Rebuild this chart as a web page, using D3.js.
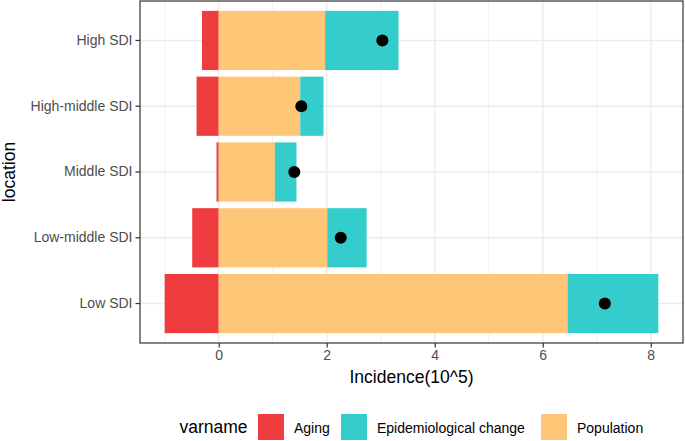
<!DOCTYPE html>
<html>
<head>
<meta charset="utf-8">
<script src="https://cdn.jsdelivr.net/npm/d3@7"></script>
<style>
  body { margin: 0; background: #fff; }
  text { font-family: "Liberation Sans", Arial, sans-serif; }
</style>
</head>
<body>
<div class="chart"></div>
<script>
(function() {
  'use strict';

  const WIDTH = 685;
  const HEIGHT = 441;

  // Data (units of 10^5)
  const LOCATIONS = ['High SDI', 'High-middle SDI', 'Middle SDI', 'Low-middle SDI', 'Low SDI'];
  const AGING = [-0.31, -0.41, -0.04, -0.49, -1.00];
  const POPULATION = [1.97, 1.51, 1.04, 2.01, 6.46];
  const EPI_CHANGE = [1.36, 0.43, 0.40, 0.73, 1.68];
  const NET = [3.03, 1.53, 1.40, 2.26, 7.15];
  const X_TICKS = [0, 2, 4, 6, 8];
  const X_MINOR = [-1, 1, 3, 5, 7];
  const VARNAMES = ['Aging', 'Epidemiological change', 'Population'];
  const COLORS = ['#EF3D3F', '#35CCCC', '#FEC677'];

  const panel = { left: 140, right: 683, top: 1, bottom: 343 };

  const svg = d3.select('.chart')
    .append('svg')
    .attr('width', WIDTH)
    .attr('height', HEIGHT);

  // x domain like ggplot: data range plus 5% each side
  const lo = d3.min(AGING);
  const hi = d3.max(POPULATION.map((p, i) => p + EPI_CHANGE[i]));
  const pad = (hi - lo) * 0.05;
  const x = d3.scaleLinear()
    .domain([lo - pad, hi + pad])
    .range([panel.left, panel.right]);

  const y = d3.scaleBand()
    .domain(LOCATIONS)
    .range([panel.top, panel.bottom])
    .paddingInner(0.1)
    .paddingOuter(0.15);

  const colour = d3.scaleOrdinal().domain(VARNAMES).range(COLORS);

  // Grid
  const grid = svg.append('g').attr('class', 'grid');
  grid.selectAll('.minor')
    .data(X_MINOR)
    .enter().append('line')
    .attr('x1', d => x(d)).attr('x2', d => x(d))
    .attr('y1', panel.top).attr('y2', panel.bottom)
    .attr('stroke', '#EBEBEB').attr('stroke-width', 0.7);
  grid.selectAll('.major')
    .data(X_TICKS)
    .enter().append('line')
    .attr('x1', d => x(d)).attr('x2', d => x(d))
    .attr('y1', panel.top).attr('y2', panel.bottom)
    .attr('stroke', '#EBEBEB').attr('stroke-width', 1.4);
  grid.selectAll('.ymajor')
    .data(LOCATIONS)
    .enter().append('line')
    .attr('x1', panel.left).attr('x2', panel.right)
    .attr('y1', d => y(d) + y.bandwidth() / 2)
    .attr('y2', d => y(d) + y.bandwidth() / 2)
    .attr('stroke', '#EBEBEB').attr('stroke-width', 1.4);

  // Stacked segments: negatives go left from 0, positives stack right
  const segments = [];
  for (let i = 0; i < LOCATIONS.length; ++i) {
    segments.push({ loc: LOCATIONS[i], v: 'Aging', x0: AGING[i], x1: 0 });
    segments.push({ loc: LOCATIONS[i], v: 'Population', x0: 0, x1: POPULATION[i] });
    segments.push({ loc: LOCATIONS[i], v: 'Epidemiological change',
      x0: POPULATION[i], x1: POPULATION[i] + EPI_CHANGE[i] });
  }

  svg.append('g').attr('class', 'bars')
    .selectAll('rect')
    .data(segments)
    .enter().append('rect')
    .attr('x', d => x(Math.min(d.x0, d.x1)))
    .attr('width', d => Math.abs(x(d.x1) - x(d.x0)))
    .attr('y', d => y(d.loc))
    .attr('height', y.bandwidth())
    .attr('fill', d => colour(d.v));

  // Net change points
  svg.append('g').attr('class', 'dots')
    .selectAll('circle')
    .data(NET)
    .enter().append('circle')
    .attr('cx', d => x(d))
    .attr('cy', (d, i) => y(LOCATIONS[i]) + y.bandwidth() / 2)
    .attr('r', 6)
    .attr('fill', '#000');

  // Panel border
  svg.append('rect')
    .attr('x', panel.left).attr('y', panel.top)
    .attr('width', panel.right - panel.left)
    .attr('height', panel.bottom - panel.top)
    .attr('fill', 'none')
    .attr('stroke', '#333333')
    .attr('stroke-width', 1.2);

  // Axes
  const xAxis = svg.append('g')
    .attr('transform', 'translate(0,' + panel.bottom + ')')
    .call(d3.axisBottom(x).tickValues(X_TICKS).tickSize(4.5).tickPadding(3).tickSizeOuter(0));
  const yAxis = svg.append('g')
    .attr('transform', 'translate(' + panel.left + ',0)')
    .call(d3.axisLeft(y).tickSize(4.5).tickPadding(3).tickSizeOuter(0));

  [xAxis, yAxis].forEach(function(a) {
    a.select('.domain').remove();
    a.selectAll('.tick line').attr('stroke', '#333333').attr('stroke-width', 1.2);
    a.selectAll('.tick text')
      .attr('fill', '#4D4D4D')
      .style('font-size', '14px')
      .style('font-family', '"Liberation Sans", Arial, sans-serif');
  });

  // Axis titles
  svg.append('text')
    .attr('x', (panel.left + panel.right) / 2)
    .attr('y', 383)
    .attr('text-anchor', 'middle')
    .style('font-size', '17.5px')
    .text('Incidence(10^5)');

  svg.append('text')
    .attr('transform', 'translate(15,' + (panel.top + panel.bottom) / 2 + ') rotate(-90)')
    .attr('text-anchor', 'middle')
    .style('font-size', '17.5px')
    .text('location');

  // Legend
  const legend = svg.append('g').attr('class', 'legend');
  legend.append('text')
    .attr('x', 179.5).attr('y', 433)
    .style('font-size', '17.5px')
    .text('varname');

  const keyX = [258, 341, 541];
  const keys = legend.selectAll('.key')
    .data(VARNAMES)
    .enter().append('g')
    .attr('transform', (d, i) => 'translate(' + keyX[i] + ',414)');
  keys.append('rect')
    .attr('width', 26).attr('height', 26)
    .attr('fill', d => colour(d));
  keys.append('text')
    .attr('x', 36).attr('y', 19)
    .style('font-size', '14px')
    .text(d => d);
})();
</script>
</body>
</html>
